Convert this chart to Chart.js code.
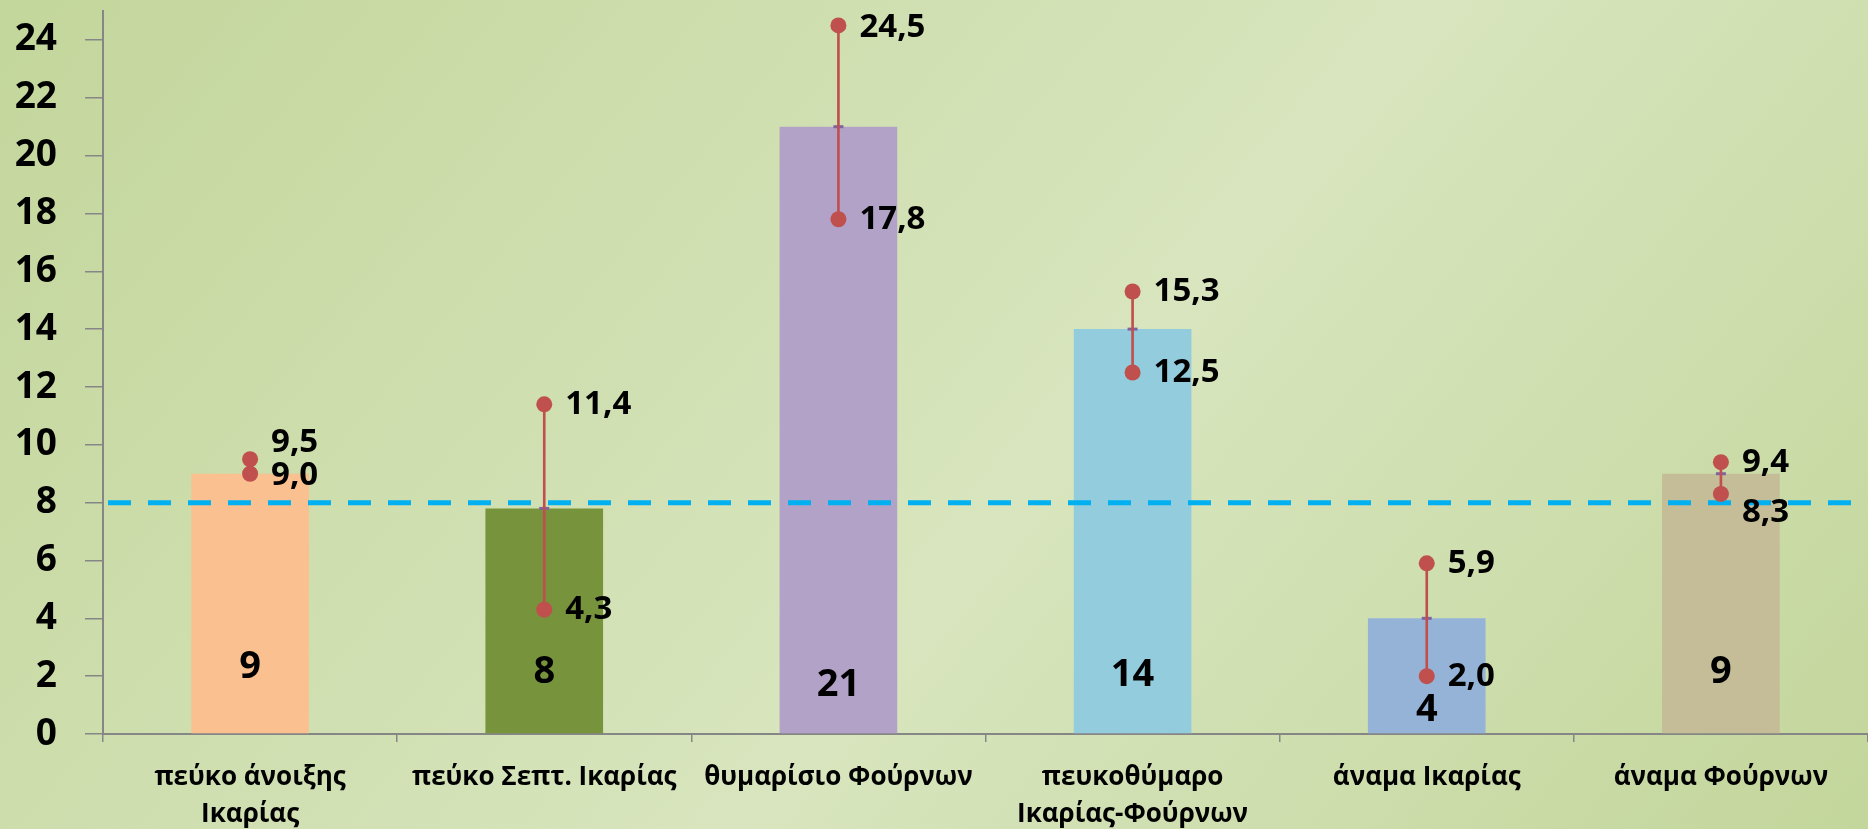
<!DOCTYPE html>
<html>
<head>
<meta charset="utf-8">
<script src="https://cdn.jsdelivr.net/npm/chart.js@4.4.0/dist/chart.umd.min.js"></script>
<style>
  html, body { margin: 0; padding: 0; width: 1868px; height: 829px; overflow: hidden; }
  body { background: linear-gradient(130deg, #c3d69b 0%, #d8e5be 56%, #c3d69b 100%); }
  #wrap { width: 1876px; height: 829px; }
</style>
</head>
<body>
<div id="wrap"><canvas id="mycanvas" width="1876" height="829"></canvas></div>
<script>
// data
const categories = [
  ['πεύκο άνοιξης', 'Ικαρίας'],
  'πεύκο Σεπτ. Ικαρίας',
  'θυμαρίσιο Φούρνων',
  ['πευκοθύμαρο', 'Ικαρίας-Φούρνων'],
  'άναμα Ικαρίας',
  'άναμα Φούρνων'
];
const barValues = [9, 7.8, 21, 14, 4, 9];
const highValues = [9.5, 11.4, 24.5, 15.3, 5.9, 9.4];
const lowValues = [9.0, 4.3, 17.8, 12.5, 2.0, 8.3];
const refLevel = 8;
const yMin = 0, yMax = 25, yStep = 2;

const barColors = ['#FAC090', '#77933C', '#B3A2C7', '#93CDDD', '#95B3D7', '#C4BD97'];
const red = '#C0504D';
const fontFam = "'Open Sans', 'Noto Sans', sans-serif";

// label placement tweaks (pixels)
const barLabelRise = [67, 62, 49, 59, 24, 62];
const highLabelShift = [-17, 0, 2, 0, 0, 0];
const lowLabelShift = [2, 0, 0, 0, 0, 19];

const rangeData = lowValues.map((v, i) => [v, highValues[i]]);

const overlay = {
  id: 'overlay',
  afterDatasetDraw(chart, args) {
    if (args.index !== 0) return;
    // dashed reference line, over the bars
    const {ctx, chartArea} = chart;
    const yy = chart.scales.y.getPixelForValue(refLevel);
    ctx.save();
    ctx.strokeStyle = '#00B0F0';
    ctx.lineWidth = 5;
    ctx.setLineDash([23, 17]);
    ctx.lineDashOffset = -5;
    ctx.beginPath();
    ctx.moveTo(chartArea.left, yy);
    ctx.lineTo(chart.width, yy);
    ctx.stroke();
    ctx.restore();
  },
  afterDatasetsDraw(chart) {
    const ctx = chart.ctx;
    const y = chart.scales.y;
    ctx.save();
    ctx.fillStyle = '#000';
    ctx.textBaseline = 'middle';

    // values inside the bars
    ctx.font = 'bold 38px ' + fontFam;
    ctx.textAlign = 'center';
    chart.getDatasetMeta(0).data.forEach((bar, i) => {
      ctx.fillText(String(Math.round(barValues[i])), bar.x, y.getPixelForValue(0) - barLabelRise[i]);
    });

    // values next to the dots
    ctx.font = 'bold 33px ' + fontFam;
    ctx.textAlign = 'left';
    chart.getDatasetMeta(3).data.forEach((pt, i) => {
      ctx.fillText(highValues[i].toFixed(1).replace('.', ','), pt.x + 21, pt.y + highLabelShift[i]);
    });
    chart.getDatasetMeta(4).data.forEach((pt, i) => {
      ctx.fillText(lowValues[i].toFixed(1).replace('.', ','), pt.x + 21, pt.y + lowLabelShift[i]);
    });
    ctx.restore();
  }
};

Chart.defaults.font.family = fontFam;

const ctx = document.getElementById('mycanvas');

new Chart(ctx, {
  data: {
    labels: categories,
    datasets: [
      {
        type: 'bar',
        data: barValues,
        backgroundColor: barColors,
        barPercentage: 0.4,
        categoryPercentage: 1,
        grouped: false,
        order: 5
      },
      {
        type: 'line',
        data: barValues,
        showLine: false,
        pointStyle: 'line',
        pointRadius: 5,
        pointBorderWidth: 3,
        pointBorderColor: '#8064A2',
        order: 4
      },
      {
        type: 'bar',
        data: rangeData,
        backgroundColor: red,
        barThickness: 2,
        grouped: false,
        order: 3
      },
      {
        type: 'line',
        data: highValues,
        showLine: false,
        pointRadius: 8,
        pointBorderWidth: 0,
        pointBackgroundColor: red,
        order: 2
      },
      {
        type: 'line',
        data: lowValues,
        showLine: false,
        pointRadius: 8,
        pointBorderWidth: 0,
        pointBackgroundColor: red,
        order: 1
      }
    ]
  },
  options: {
    responsive: false,
    animation: false,
    layout: { padding: { left: 0, right: 3, top: 11, bottom: 0 } },
    plugins: { legend: { display: false }, tooltip: { enabled: false } },
    scales: {
      x: {
        type: 'category',
        offset: true,
        grid: { offset: true, drawOnChartArea: false, drawTicks: true, tickLength: 8, color: '#868686', lineWidth: 1.5 },
        border: { color: '#868686', width: 2 },
        ticks: {
          color: '#000',
          font: { size: 26, weight: 'bold', lineHeight: 1.43 },
          padding: 17,
          maxRotation: 0,
          autoSkip: false
        },
        afterFit: s => { s.height = 95; }
      },
      y: {
        min: yMin,
        max: yMax,
        grid: { drawOnChartArea: false, drawTicks: true, tickLength: 18, color: '#868686', lineWidth: 1.5 },
        border: { color: '#868686', width: 2 },
        ticks: {
          stepSize: yStep,
          includeBounds: false,
          color: '#000',
          font: { size: 37, weight: 'bold' },
          padding: 28
        },
        afterFit: s => { s.width = 103; s.paddingTop = 0; s.paddingBottom = 0; }
      }
    }
  },
  plugins: [overlay]
});
</script>
</body>
</html>
